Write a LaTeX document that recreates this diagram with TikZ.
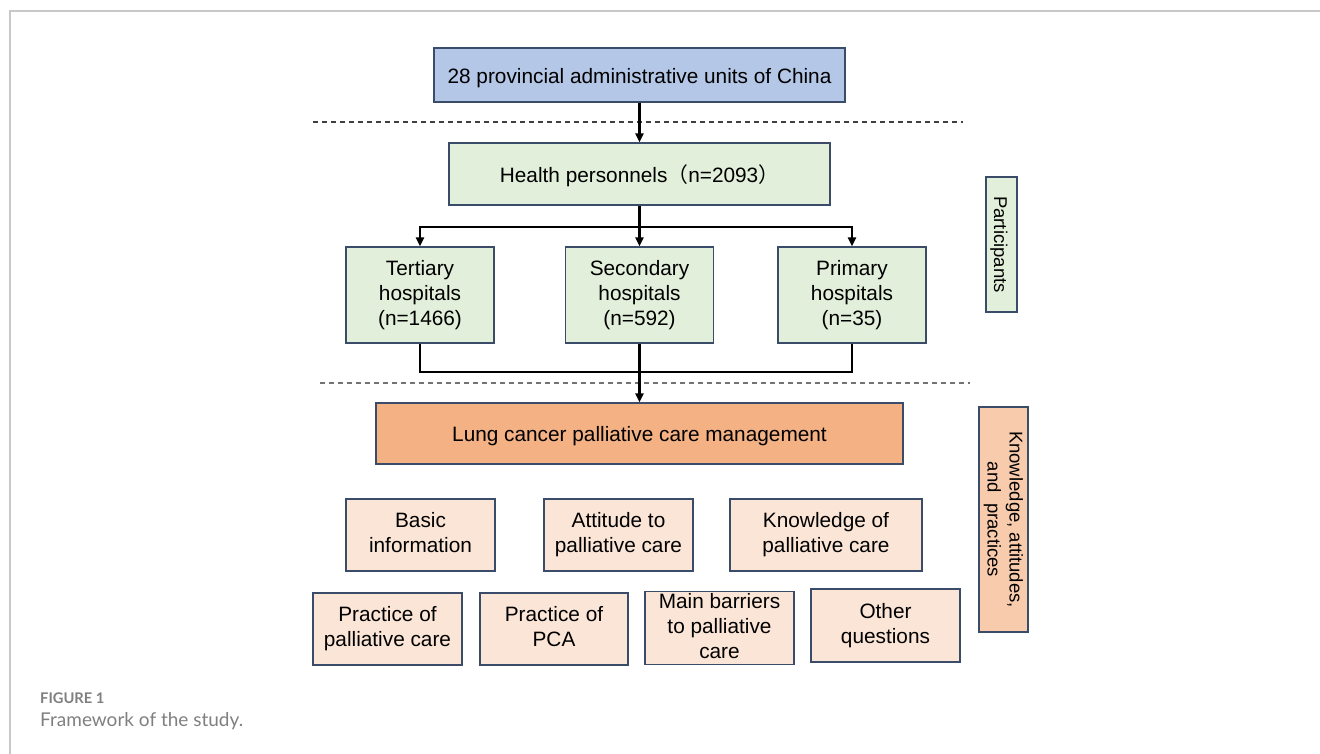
\documentclass[tikz,border=0pt]{standalone}
\usepackage{fontspec}
\setmainfont{Liberation Sans}
\newfontfamily\cjk{Noto Sans CJK SC}
\newfontfamily\capfont{Lato}
\usetikzlibrary{arrows.meta}
\definecolor{bordc}{HTML}{3B4C6B}
\definecolor{bluef}{HTML}{B4C7E7}
\definecolor{greenf}{HTML}{E2EFDA}
\definecolor{orangef}{HTML}{F4B183}
\definecolor{kapf}{HTML}{F8CBAD}
\definecolor{lightf}{HTML}{FBE5D6}
\definecolor{framec}{HTML}{C8C8C8}
\definecolor{capc}{HTML}{7F7F7F}
\tikzset{
  box/.style={draw=bordc, line width=1.2pt, align=center, inner sep=2pt,
    font=\fontsize{20.8}{25}\selectfont,
    execute at begin node={\rule{0pt}{1.0em}},
    execute at end node={\rule[-0.2em]{0pt}{0pt}}},
  sidebox/.style={box, rotate=-90, font=\fontsize{18.5}{22}\selectfont},
  conn/.style={line width=2.4pt, draw=black},
  arr/.style={conn, -{Triangle[length=9pt,width=8pt]}},
  sep/.style={line width=1.3pt, dash pattern=on 5pt off 4pt}
}
\begin{document}
\begin{tikzpicture}[x=1pt,y=-1pt]
\useasboundingbox (0,0) rectangle (1320,754);
% frame
\draw[framec, line width=1.5pt] (10,754) -- (10,11) -- (1320,11);
% separators
\draw[sep, draw=black!75] (313,122) -- (963,122);
\draw[sep, draw=black!55] (320,383) -- (970,383);
% nodes
\node[box, fill=bluef, minimum width=411, minimum height=54] (units) at (639.5,75) {28 provincial administrative units of China};
\node[box, fill=greenf, minimum width=381, minimum height=62] (hp) at (639.5,174) {Health personnels{\cjk（}n=2093{\cjk）}};
\node[box, fill=greenf, minimum width=148, minimum height=96] (tert) at (420,295) {Tertiary\\hospitals\\(n=1466)};
\node[box, fill=greenf, minimum width=148, minimum height=96] (sec) at (639.5,295) {Secondary\\hospitals\\(n=592)};
\node[box, fill=greenf, minimum width=148, minimum height=96] (prim) at (852,295) {Primary\\hospitals\\(n=35)};
\node[box, fill=orangef, minimum width=527, minimum height=61] (lung) at (639.5,433.5) {Lung cancer palliative care management};
\node[sidebox, fill=greenf, minimum width=135, minimum height=31] (part) at (1001.5,244.5) {Participants};
\node[sidebox, fill=kapf, minimum width=225, minimum height=49] (kap) at (1003.5,519.5) {Knowledge, attitudes,\\and\ \ practices};
\node[box, fill=lightf, minimum width=149, minimum height=72] (basic) at (420.5,535) {Basic\\information};
\node[box, fill=lightf, minimum width=149, minimum height=72] (att) at (618.5,535) {Attitude to\\palliative care};
\node[box, fill=lightf, minimum width=192, minimum height=72] (know) at (826,535) {Knowledge of\\palliative care};
\node[box, fill=lightf, minimum width=149, minimum height=72] (prac) at (387.5,629) {Practice of\\palliative care};
\node[box, fill=lightf, minimum width=148, minimum height=72] (pca) at (554,629) {Practice of\\PCA};
\node[box, fill=lightf, minimum width=149, minimum height=73, inner ysep=0pt,
  execute at begin node={\rule{0pt}{0.85em}}] (barr) at (719.5,628) {Main barriers\\to palliative\\care};
\node[box, fill=lightf, minimum width=149, minimum height=73] (other) at (885.5,625.5) {Other\\questions};
% connectors
\draw[arr] (units) -- (hp);
\coordinate (split) at (639.5,227);
\coordinate (merge) at (639.5,372);
\draw[conn] (hp) -- (split);
\draw[arr] (split) -| (tert);
\draw[arr] (split) -- (sec);
\draw[arr] (split) -| (prim);
\draw[conn] (tert) |- (merge);
\draw[conn] (prim) |- (merge);
\draw[arr] (sec) -- (lung);
% caption
\node[anchor=base west, inner sep=0, text=capc, font=\capfont\bfseries\fontsize{14.7}{17}\selectfont] (figlab) at (40,703) {FIGURE 1};
\node[anchor=base west, inner sep=0, text=capc, font=\capfont\fontsize{19}{23}\selectfont] (figcap) at (40,726) {Framework of the study.};
\end{tikzpicture}
\end{document}
